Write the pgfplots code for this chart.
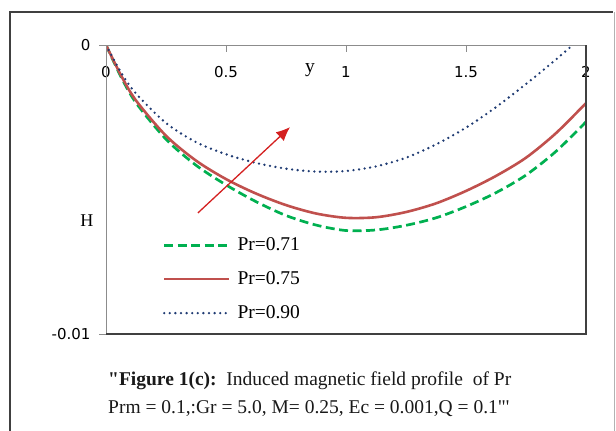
\documentclass[border=0pt]{standalone}
\usepackage{fontspec}
\setmainfont{Liberation Serif}
\newfontfamily\capfont{Liberation Serif}
\newfontfamily\tickfont{DejaVu Sans}
\usepackage{pgfplots}
\pgfplotsset{compat=1.18}
\usetikzlibrary{arrows.meta}

\definecolor{grn}{HTML}{00B050}
\definecolor{rd}{HTML}{C0504D}
\definecolor{nv}{HTML}{1F3B73}
\definecolor{arr}{HTML}{D42020}
\definecolor{axgray}{HTML}{8C8C8C}
\definecolor{axdark}{HTML}{404040}

\begin{document}
\begin{tikzpicture}[x=1pt,y=1pt]
\useasboundingbox (0,0) rectangle (616,-431);
% outer chart frame
\draw[axdark, line width=1.2pt] (10,-440) -- (10,-12) -- (613,-12);
\draw[black!30, line width=1pt] (614.5,-12) -- (614.5,-440);

\begin{axis}[
  at={(106pt,-334pt)}, anchor=south west,
  scale only axis, width=480pt, height=289pt,
  xmin=0, xmax=2, ymin=-0.01, ymax=0,
  scaled y ticks=false,
  axis line style={draw=none},
  tick align=inside,
  xtick={0,0.5,1,1.5,2}, xticklabels={0,0.5,1,1.5,2},
  xtick pos=right, xticklabel pos=right,
  xticklabel style={anchor=center, yshift=-27pt},
  ytick={-0.01,0}, yticklabels={-0.01,0},
  ytick pos=left,
  ytick style={xshift=-7pt},
  major tick length=7pt,
  tick style={axgray, line width=0.9pt},
  yticklabel style={anchor=east, xshift=-12pt},
  ticklabel style={font=\tickfont\fontsize{15}{18}\selectfont},
  xlabel={y}, ylabel={H},
  xlabel style={at={(axis description cs:0.425,0.913)}, anchor=center, font=\fontsize{19.5}{22}\selectfont},
  ylabel style={at={(axis description cs:-0.04,0.394)}, anchor=center, rotate=-90, font=\fontsize{18}{22}\selectfont},
  legend cell align=left,
  legend style={draw=none, fill=none, at={(axis description cs:0.118,0.34)}, anchor=north west,
    font=\fontsize{19.5}{22}\selectfont, row sep=15.5pt, inner sep=0pt,
    nodes={inner sep=2pt},
    /tikz/every odd column/.append style={column sep=5pt}},
  legend image code/.code={\draw[#1] (0pt,0pt) -- (65pt,0pt);},
  clip=true,
  after end axis/.code={
    \draw[axgray, line width=1pt] (rel axis cs:0,0) -- (rel axis cs:0,1) -- (rel axis cs:1,1);
    \draw[axdark, line width=1.6pt] (rel axis cs:1,1) -- (rel axis cs:1,0) -- (rel axis cs:0,0);
  },
]
\addplot[grn, line width=2.7pt, dash pattern=on 9pt off 4.5pt, smooth] coordinates {
 (0,0) (0.0625,-0.00110) (0.125,-0.00200) (0.25,-0.00326) (0.375,-0.00416) (0.5,-0.00484)
 (0.625,-0.00542) (0.75,-0.00590) (0.875,-0.00623) (1,-0.00642) (1.125,-0.00640)
 (1.25,-0.00624) (1.375,-0.00598) (1.5,-0.00559) (1.625,-0.00511) (1.75,-0.00450)
 (1.875,-0.00368) (2,-0.00266)};
\addlegendentry{Pr=0.71}
\addplot[rd, line width=2.6pt, smooth] coordinates {
 (0,0) (0.0625,-0.00105) (0.125,-0.00192) (0.25,-0.00314) (0.375,-0.00400) (0.5,-0.00464)
 (0.625,-0.00514) (0.75,-0.00554) (0.875,-0.00583) (1,-0.00598) (1.125,-0.00596)
 (1.25,-0.00578) (1.375,-0.00548) (1.5,-0.00505) (1.625,-0.00453) (1.75,-0.00390)
 (1.875,-0.00305) (2,-0.00201)};
\addlegendentry{Pr=0.75}
\addplot[nv, line width=2.6pt, line cap=round, dash pattern=on 0pt off 5.6pt, smooth] coordinates {
 (0,0) (0.0625,-0.00095) (0.125,-0.00168) (0.25,-0.00270) (0.375,-0.00336) (0.5,-0.00378)
 (0.625,-0.00408) (0.75,-0.00428) (0.875,-0.00438) (1,-0.00436) (1.125,-0.00420)
 (1.25,-0.00390) (1.375,-0.00344) (1.5,-0.00286) (1.625,-0.00215) (1.75,-0.00135)
 (1.875,-0.00050) (2,0.00040)};
\addlegendentry{Pr=0.90}
% trend arrow for increasing Pr
\draw[arr, line width=1.3pt, -{Latex[length=14pt,width=12pt]}]
  (axis cs:0.383,-0.00581) -- (axis cs:0.767,-0.00284);
\end{axis}

% caption below the plot
\node[anchor=base west, inner sep=0pt, text=black!90] at (108,-385)
  {\capfont\fontsize{19.5}{22}\selectfont\textbf{"Figure 1(c):}\ \ Induced magnetic field profile\ \ of Pr};
\node[anchor=base west, inner sep=0pt, text=black!90] at (108,-413)
  {\capfont\fontsize{19.5}{22}\selectfont Prm = 0.1,:Gr = 5.0, M= 0.25, Ec = 0.001,Q = 0.1"'};
\end{tikzpicture}
\end{document}
